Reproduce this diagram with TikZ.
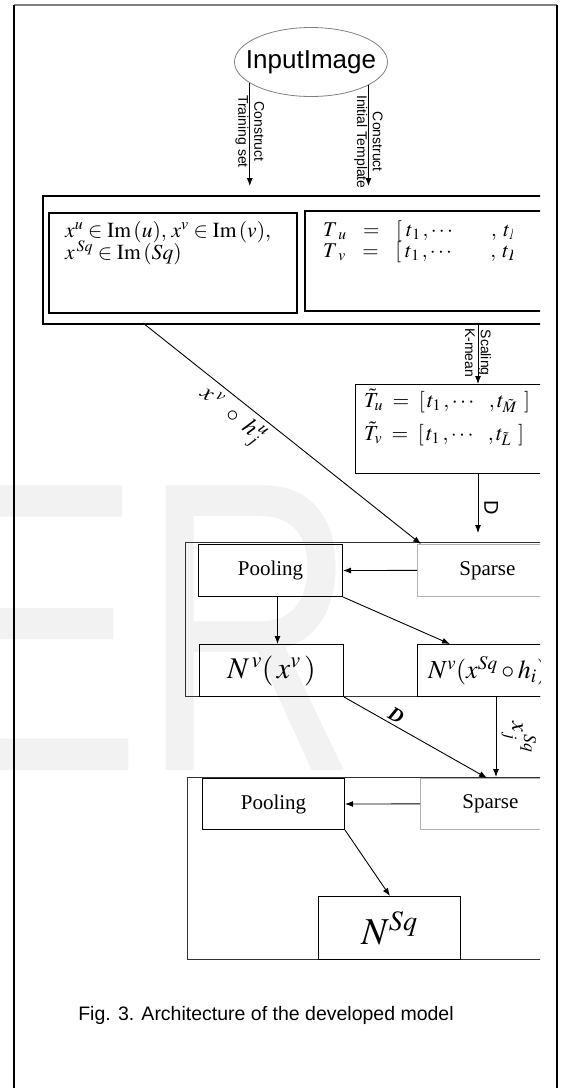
\documentclass[tikz,border=0pt]{standalone}
\usepackage{mathptmx}
\usepackage{fontspec}
\setmainfont{Liberation Serif}
\setsansfont{Liberation Sans}
\usetikzlibrary{arrows.meta,shapes.geometric,positioning}

\begin{document}
\begin{tikzpicture}[x=1pt, y=-1pt,
    arr/.style={-{Latex[length=8pt,width=6pt]}, line width=0.9pt},
    blk/.style={draw, inner sep=0pt, anchor=north west},
    lbl/.style={font=\sffamily\fontsize{14}{16}\selectfont, align=center, inner sep=0pt},
    mtxt/.style={font=\fontsize{21.5}{24}\selectfont, inner sep=0pt, anchor=base west}]
    \useasboundingbox (0,0) rectangle (563,1088);

    % Watermark
    \node[font=\sffamily\fontsize{300}{300}\selectfont, text=gray!10, anchor=base west, inner sep=0pt,
          transform shape, yscale=1.38] (wmark) at (-59,770) {ER};

    % Frame
    \draw[gray, line width=1.5pt] (14,5) -- (557,5);
    \draw[line width=2.5pt] (14,5) -- (14,1088);
    \draw[line width=2.5pt] (557,5) -- (557,1088);

    \begin{scope}
    \clip (0,0) rectangle (540,1088);

    % Input
    \node[ellipse, draw=gray, line width=0.8pt, minimum width=153pt, minimum height=69pt,
          inner xsep=-12pt, inner ysep=0pt, font=\sffamily\fontsize{26}{30}\selectfont] (input) at (311,62) {InputImage};

    % Stage 1: training set and templates
    \node[blk, line width=2pt, minimum width=600pt, minimum height=128pt] (outerA) at (42,195) {};
    \node[blk, line width=1.5pt, minimum width=248pt, minimum height=100pt] (trainbox) at (48,212) {};
    \node[blk, line width=1.5pt, minimum width=300pt, minimum height=100pt] (tmplbox) at (304,210) {};
    \node[mtxt] (xuv) at (65,237) {$x^{u} \in \mathrm{Im}\,(u),\,x^{v} \in \mathrm{Im}\,(v),$};
    \node[mtxt] (xsq) at (65,259) {$x^{\,Sq} \in \mathrm{Im}\,(Sq)$};
    \begin{scope}
    \clip (300,200) rectangle (512,320);
    \node[mtxt, font=\fontsize{21}{24}\selectfont] (tu) at (323,236)
        {$T_{\hspace{5pt}u}\hspace{12pt}=\hspace{12pt}[\hspace{4pt}t_{\hspace{1pt}1}\hspace{2pt},\cdots\hspace{36pt},\hspace{4pt}t_{\hspace{1pt}M}\;]$};
    \node[mtxt, font=\fontsize{21}{24}\selectfont] (tv) at (323,257)
        {$T_{\hspace{5pt}v}\hspace{12pt}=\hspace{12pt}[\hspace{4pt}t_{\hspace{1pt}1}\hspace{2pt},\cdots\hspace{36pt},\hspace{4pt}t_{\hspace{1pt}L}\;]$};
    \end{scope}

    % Arrows from input
    \draw[arr, shorten >=9pt] (input.199) -- (input.199 |- outerA.north);
    \draw[arr, shorten >=9pt] (input.338) -- (input.338 |- outerA.north);
    \node[lbl, rotate=-90, anchor=west] (trlbl) at (input.199 |- 0,95) {Construct\\Training set};
    \node[lbl, rotate=-90, anchor=west] (tmlbl) at (input.338 |- 0,95) {Construct\\Initial Template};

    % Scaled templates
    \node[blk, line width=1.2pt, minimum width=300pt, minimum height=89pt] (scalebox) at (355,384) {};
    \node[mtxt] (ttu) at (364,407) {$\tilde{T}_{u}\;=\;[\,t_{1}\,,\cdots\;\;\,,t_{\tilde{M}}\;\,]$};
    \node[mtxt] (ttv) at (364,440) {$\tilde{T}_{v}\;=\;[\,t_{1}\,,\cdots\;\;\,,t_{\tilde{L}}\;\,]$};
    \coordinate (scx) at (478,0);
    \draw[arr] (outerA.south -| scx) -- (scalebox.north -| scx);
    \node[lbl, rotate=-90, anchor=west] (sclbl) at (478,328) {Scaling\\K-mean};

    % Stage 2
    \node[blk, draw=black!80, line width=1pt, minimum width=600pt, minimum height=154pt] (grpB) at (185,542) {};
    \node[blk, line width=1pt, minimum width=144pt, minimum height=52pt, font=\fontsize{21}{24}\selectfont] (poolA) at (198,544) {Pooling};
    \node[blk, draw=gray!60, line width=0.8pt, minimum width=140pt, minimum height=52pt, font=\fontsize{21}{24}\selectfont] (sparseA) at (417,544) {Sparse};
    \node[blk, line width=1pt, minimum width=144pt, minimum height=52pt, font=\fontsize{30}{34}\selectfont] (nvx) at (199,644) {$N^{\,v}(\,x^{v}\,)$};
    \node[blk, line width=1pt, minimum width=140pt, minimum height=52pt, font=\fontsize{26}{30}\selectfont] (nvh) at (417,644) {$N^{v}(x^{Sq}\circ h_{i})$};

    \draw[arr, shorten >=9pt] (scalebox.south -| scx) -- (grpB.north -| scx)
        node[midway, rotate=-90, anchor=south, inner sep=6pt, font=\sffamily\fontsize{20}{22}\selectfont] (dlbl) {D};
    \coordinate (xvstart) at (143,323);
    \draw[arr] (xvstart) -- ([xshift=4pt]sparseA.north west)
        node[pos=0.36, sloped, below, inner sep=5pt, font=\fontsize{24}{28}\selectfont] (xvlbl) {$x^{\,v}\;\,\circ\;h_{j}^{\,u}$};
    \draw[arr] (sparseA.west) -- (poolA.east);
    \draw[arr] ([xshift=7pt]poolA.south) -- ([xshift=6pt]nvx.north);
    \draw[arr] (poolA.south east) -- ([xshift=33pt]nvh.north west);

    % Stage 3
    \node[blk, draw=black!80, line width=1pt, minimum width=600pt, minimum height=182pt] (grpC) at (187,777) {};
    \node[blk, line width=1pt, minimum width=142pt, minimum height=51pt, font=\fontsize{21}{24}\selectfont] (poolB) at (202,778) {Pooling};
    \node[blk, draw=gray!60, line width=0.8pt, minimum width=140pt, minimum height=51pt, font=\fontsize{21}{24}\selectfont] (sparseB) at (420,778) {Sparse};
    \node[blk, line width=1pt, minimum width=142pt, minimum height=63pt, font=\fontsize{38}{42}\selectfont] (nsq) at (318,896) {$N^{Sq}$};

    \draw[arr] (nvx.south east) -- ([xshift=67pt]sparseB.north west)
        node[pos=0.33, sloped, above, inner sep=3pt, font=\fontsize{20}{24}\selectfont] (dblbl) {\textbf{\textit{D}}};
    \coordinate (sqx) at (496,0);
    \draw[arr] (grpB.south -| sqx) -- (grpC.north -| sqx)
        node[midway, rotate=-90, anchor=south, inner sep=5pt, font=\fontsize{24}{28}\selectfont] (xjlbl) {$x_{j}^{\,Sq}$};
    \draw[arr] (sparseB.west) -- (poolB.east);
    \draw[arr] (poolB.south east) -- ([xshift=72pt]nsq.north west);
    \end{scope}

    % Caption
    \node[font=\sffamily\fontsize{19.5}{22}\selectfont] (caption) at (266,1015) {Fig. 3. Architecture of the developed model};
\end{tikzpicture}
\end{document}
